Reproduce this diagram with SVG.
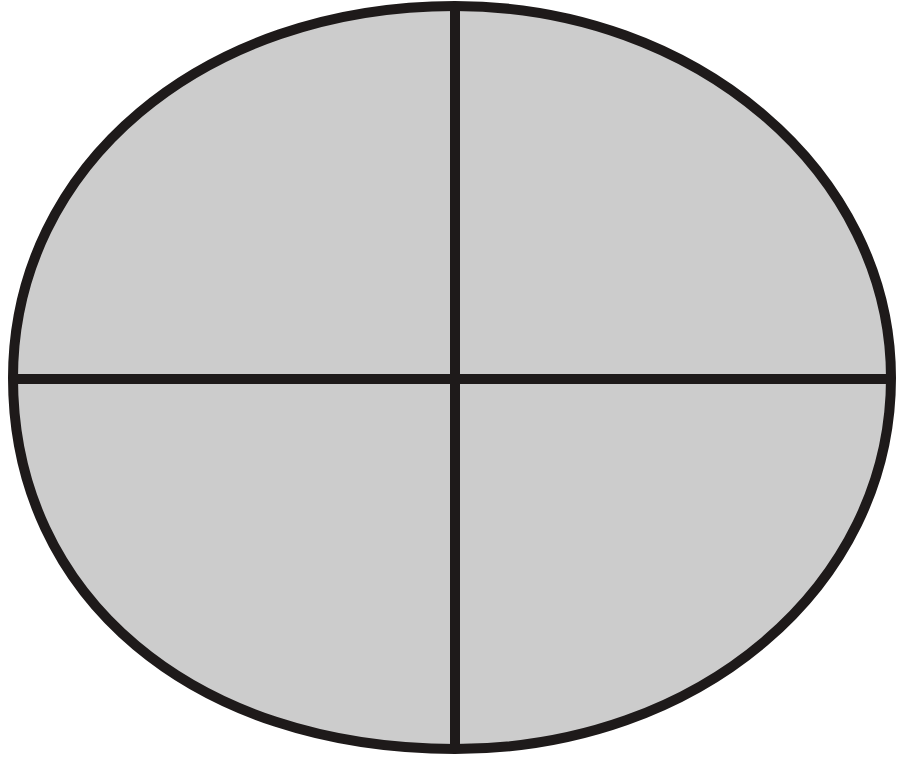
<svg xmlns="http://www.w3.org/2000/svg" width="898" height="757" viewBox="0 0 898 757">
<style>
.s{stroke:#1e1a1a;stroke-width:10;}
</style>
<rect width="898" height="757" fill="#ffffff"/>
<g id="ellipse">
<path class="s" fill="#cccccc" d="M 13 378 C 13 166 203 6 455 6 C 696 6 891 172.5 891 378 C 891 586 699 749 455 749 C 194 749 13 597 13 378 Z"/>
</g>
<g id="connectors">
<line class="s" x1="455" y1="6" x2="455" y2="749"/>
<line class="s" x1="13" y1="379" x2="891" y2="379"/>
</g>
</svg>
